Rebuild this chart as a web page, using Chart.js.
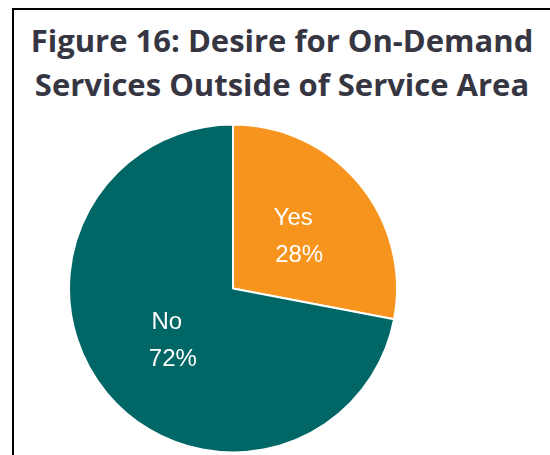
<!DOCTYPE html>
<html>
<head>
<meta charset="utf-8">
<script src="https://cdn.jsdelivr.net/npm/chart.js@4"></script>
<style>
    body { margin: 0; background: #fff; }
    #wrap { position: relative; width: 550px; height: 455px; overflow: hidden; }
    #frame { position: absolute; left: 12px; top: 8px; right: -4px; bottom: -4px; border-left: 2px solid #000; border-top: 2px solid #000; }
    #title { position: absolute; left: 14px; right: 0; top: 18px; text-align: center; font-family: 'Open Sans', sans-serif; font-weight: bold; font-size: 31px; line-height: 44px; color: #363643; }
    #pieChart { position: absolute; left: 0; top: 0; }
</style>
</head>
<body>
<div id="wrap">
    <div id="frame"></div>
    <div id="title">Figure 16: Desire for On-Demand<br>Services Outside of Service Area</div>
    <canvas id="pieChart" width="550" height="455"></canvas>
</div>
<script>
const answers = ["Yes", "No"];
const shares = [28, 72];
const sliceColors = ["#f7941e", "#016766"];

// writes "label" and "nn%" on each slice, at the arc's centroid
const sliceLabels = {
    id: 'sliceLabels',
    afterDatasetsDraw(chart) {
        const ctx = chart.ctx;
        const arcs = chart.getDatasetMeta(0).data;
        ctx.save();
        ctx.fillStyle = "#ffffff";
        ctx.font = "24px 'Liberation Sans', Arial, sans-serif";
        ctx.textAlign = "center";
        ctx.textBaseline = "middle";
        for (let i = 0; i < arcs.length; i++) {
            const pos = arcs[i].tooltipPosition();
            ctx.fillText(answers[i], pos.x - 3, pos.y - 18);
            ctx.fillText(shares[i] + "%", pos.x + 3, pos.y + 19);
        }
        ctx.restore();
    }
};

const ctx = document.getElementById('pieChart');
new Chart(ctx, {
    type: 'pie',
    data: {
        labels: answers,
        datasets: [{
            data: shares,
            backgroundColor: sliceColors,
            borderColor: "#ffffff",
            borderWidth: 2,
            radius: 164
        }]
    },
    options: {
        responsive: false,
        animation: false,
        layout: {
            padding: { left: 68, right: 152, top: 124, bottom: 2 }
        },
        plugins: {
            legend: { display: false },
            tooltip: { enabled: false }
        }
    },
    plugins: [sliceLabels]
});
</script>
</body>
</html>
